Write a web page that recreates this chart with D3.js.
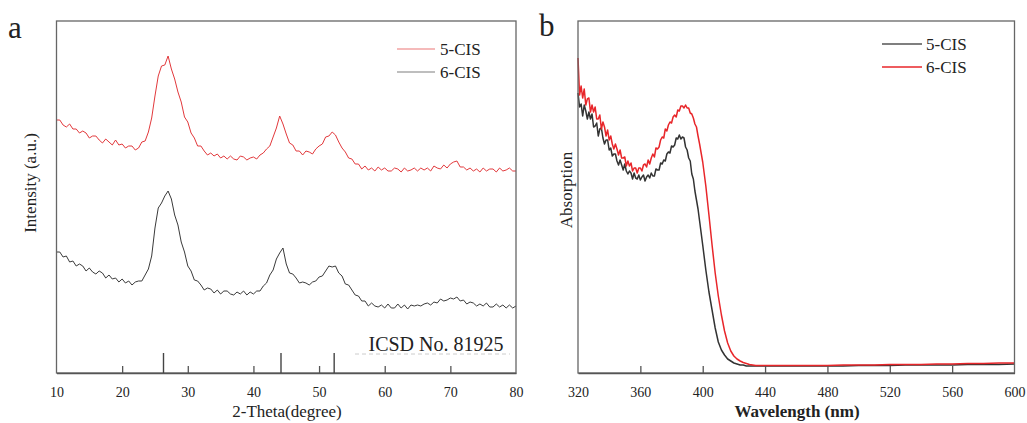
<!DOCTYPE html>
<html><head><meta charset="utf-8">
<script src="https://cdn.jsdelivr.net/npm/d3@7"></script>
<style>
html,body{margin:0;padding:0;background:#fff;}
text{font-family:"Liberation Serif","Times New Roman",serif;fill:#222;}
</style></head>
<body>
<svg id="c" width="1027" height="423"></svg>
<script>
// ---------- Panel a: XRD ----------
const xrdTicks = [10,20,30,40,50,60,70,80];
const xrdGrid = d3.range(10, 80.01, 0.5);           // 2-theta sampling (degree)
const xrd5CIS = [
253,253,248,246,249,244,244,240,242,240,
235,237,237,233,230,234,231,228,233,228,
229,225,227,227,223,225,231,232,241,255,
277,297,307,308,317,304,294,281,271,256,
251,240,235,227,227,222,218,220,217,219,
215,217,214,217,214,213,217,216,213,215,
216,214,218,220,224,227,236,245,257,249,
239,230,228,222,222,218,222,221,219,224,
227,229,236,237,241,238,231,225,221,215,
214,209,209,204,207,203,205,202,206,203,
205,202,202,205,204,201,205,202,203,205,
202,205,203,205,202,207,205,204,208,205,
209,211,212,206,206,203,205,202,204,201,
205,202,204,204,201,205,202,203,205,202,
202];
const xrd6CIS = [
121,121,116,117,111,112,107,109,107,102,
105,101,99,102,100,95,98,94,95,91,
94,90,92,88,91,92,92,98,104,117,
145,165,170,177,182,174,158,148,131,121,
107,102,93,92,88,83,85,84,80,83,
79,82,82,79,78,81,79,82,78,81,
79,82,82,87,90,98,103,114,120,125,
109,100,99,95,90,91,90,88,91,92,
96,97,102,107,106,107,100,97,89,88,
83,78,77,72,72,67,70,67,66,68,
65,69,65,65,69,65,68,64,68,67,
68,67,69,70,68,71,70,74,72,73,
75,74,76,72,73,69,71,70,67,69,
67,70,66,66,69,66,68,65,68,65,
67];
const icsdPeaks = [26.3, 44.2, 52.3];
const icsdHeights = [1, 1, 1];

// ---------- Panel b: UV-vis ----------
const uvTicks = [320,360,400,440,480,520,560,600];
const uvGrid = d3.range(320, 400.5, 1).concat(d3.range(402, 441, 2), d3.range(450, 601, 10)); // nm
const uv5CIS = [
280,266,269,257,268,262,254,261,254,259,
246,247,250,237,244,245,235,229,233,233,
223,225,217,219,219,212,208,213,208,203,
209,202,199,202,200,194,200,195,194,198,
193,196,198,192,196,198,195,200,197,197,
204,203,203,210,209,213,212,219,221,220,
227,226,228,235,234,238,234,236,235,226,
223,215,212,199,194,182,173,164,152,140,
128,
103,81,63,45,31,23,18,14,12,10,9,8,8,7,7,7,7,7,7,7,
7,7,7,7,7,7.5,7.5,7.5,8,8,8,8,8.5,8.5,8.5,9];
const uv6CIS = [
315,278,287,275,284,268,274,275,261,268,
261,266,254,254,258,244,251,246,237,243,
233,237,229,224,229,224,218,223,215,215,
216,207,212,207,210,202,205,205,200,205,
205,202,208,209,206,213,209,215,219,216,
225,224,226,233,236,235,244,242,248,251,
250,256,258,256,263,262,267,267,265,268,
265,265,260,259,255,249,246,237,229,220,
211,
187,158,128,100,77,58,42,30,22,17,14,12,10.5,9.5,8.5,8,7.5,7.5,7.5,7.5,
7.5,7.5,7.5,7.5,8,8,8,8.5,8.5,8.5,9,9,9.5,9.5,10,10];

const legendA = ["5-CIS","6-CIS"];
const legendB = ["5-CIS","6-CIS"];

const svg = d3.select("#c");
const plotTop = 21, plotBottom = 373;

function frame(g, x0, x1) {
  g.append("rect").attr("x", x0).attr("y", plotTop).attr("width", x1 - x0).attr("height", plotBottom - plotTop)
    .attr("fill", "none").attr("stroke", "#666").attr("stroke-width", 1.3);
}

// ===== Panel a =====
const xA = d3.scaleLinear().domain([10, 80]).range([56.5, 516]);
const yA = d3.scaleLinear().domain([0, 352]).range([plotBottom, plotTop]);
const gA = svg.append("g");

const lineA = d3.line().x((d, i) => xA(xrdGrid[i])).y(d => yA(d));
gA.append("path").datum(xrd5CIS).attr("d", lineA).attr("fill", "none")
  .attr("stroke", "#e2393c").attr("stroke-width", 1).attr("stroke-linejoin", "round");
gA.append("path").datum(xrd6CIS).attr("d", lineA).attr("fill", "none")
  .attr("stroke", "#3a3a3a").attr("stroke-width", 1).attr("stroke-linejoin", "round");

frame(gA, 56.5, 516);

const axA = d3.axisBottom(xA).tickValues(xrdTicks).tickSizeInner(-7).tickSizeOuter(0).tickPadding(14);
const axAg = gA.append("g").attr("transform", `translate(0,${plotBottom})`).call(axA);
axAg.select(".domain").attr("stroke", "#555").attr("stroke-width", 1.5);
axAg.selectAll(".tick line").attr("stroke", "#555").attr("stroke-width", 1.3)
  .attr("display", d => (d === 10 || d === 80) ? "none" : null);
axAg.selectAll(".tick text").attr("font-size", 14).attr("fill", "#333")
  .style("font-family", '"Liberation Serif",serif');

// ICSD reference lines
gA.selectAll(".ref").data(icsdPeaks).join("line")
  .attr("x1", d => xA(d)).attr("x2", d => xA(d))
  .attr("y1", plotBottom).attr("y2", (d, i) => plotBottom - 20 * icsdHeights[i])
  .attr("stroke", "#444").attr("stroke-width", 1.4);
gA.append("line").attr("x1", 355).attr("x2", 510).attr("y1", 354).attr("y2", 354)
  .attr("stroke", "#ccc").attr("stroke-width", 1).attr("stroke-dasharray", "4,3");
gA.append("text").attr("x", 436).attr("y", 351).attr("text-anchor", "middle")
  .attr("font-size", 20).text("ICSD No. 81925");

gA.append("text").attr("x", 287).attr("y", 417).attr("text-anchor", "middle")
  .attr("font-size", 17).text("2-Theta(degree)");
gA.append("text").attr("transform", "translate(36,183) rotate(-90)").attr("text-anchor", "middle")
  .attr("font-size", 17).text("Intensity (a.u.)");
gA.append("text").attr("x", 8).attr("y", 38).attr("font-size", 31).attr("fill", "#000").text("a");

const colLegA = ["#f2a3a3", "#a8a8a8"];
legendA.forEach((s, i) => {
  const y = 49 + i * 23;
  gA.append("line").attr("x1", 397).attr("x2", 435).attr("y1", y).attr("y2", y)
    .attr("stroke", colLegA[i]).attr("stroke-width", 1.3);
  gA.append("text").attr("x", 440).attr("y", y + 5.5).attr("font-size", 17).text(s);
});

// ===== Panel b =====
const xB = d3.scaleLinear().domain([320, 600]).range([578, 1014.5]);
const yB = d3.scaleLinear().domain([0, 352]).range([plotBottom, plotTop]);
const gB = svg.append("g");
const lineB = d3.line().x((d, i) => xB(uvGrid[i])).y(d => yB(d));
gB.append("path").datum(uv5CIS).attr("d", lineB).attr("fill", "none")
  .attr("stroke", "#333").attr("stroke-width", 1.5).attr("stroke-linejoin", "round");
gB.append("path").datum(uv6CIS).attr("d", lineB).attr("fill", "none")
  .attr("stroke", "#e8262a").attr("stroke-width", 1.5).attr("stroke-linejoin", "round");

frame(gB, 578, 1014.5);
const axB = d3.axisBottom(xB).tickValues(uvTicks).tickSizeInner(-7).tickSizeOuter(0).tickPadding(14);
const axBg = gB.append("g").attr("transform", `translate(0,${plotBottom})`).call(axB);
axBg.select(".domain").attr("stroke", "#555").attr("stroke-width", 1.5);
axBg.selectAll(".tick line").attr("stroke", "#555").attr("stroke-width", 1.3)
  .attr("display", d => (d === 320 || d === 600) ? "none" : null);
axBg.selectAll(".tick text").attr("font-size", 14).attr("fill", "#333")
  .style("font-family", '"Liberation Serif",serif');

gB.append("text").attr("x", 797).attr("y", 417).attr("text-anchor", "middle")
  .attr("font-size", 17).attr("font-weight", "bold").attr("fill", "#333").text("Wavelength (nm)");
gB.append("text").attr("transform", "translate(572,190) rotate(-90)").attr("text-anchor", "middle")
  .attr("font-size", 17).text("Absorption");
gB.append("text").attr("x", 539).attr("y", 36).attr("font-size", 31).attr("fill", "#000").text("b");

const colLegB = ["#555", "#e8262a"];
legendB.forEach((s, i) => {
  const y = 44 + i * 23;
  gB.append("line").attr("x1", 882).attr("x2", 922).attr("y1", y).attr("y2", y)
    .attr("stroke", colLegB[i]).attr("stroke-width", 1.4);
  gB.append("text").attr("x", 926).attr("y", y + 5.5).attr("font-size", 17).text(s);
});
</script>
</body></html>
